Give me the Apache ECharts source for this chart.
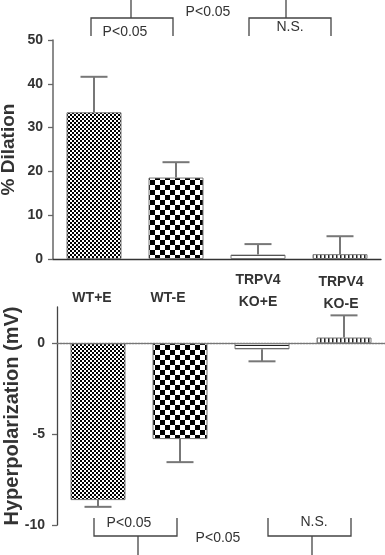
<!DOCTYPE html>
<html><head><meta charset="utf-8">
<script src="https://cdn.jsdelivr.net/npm/echarts@6/dist/echarts.min.js"></script>
<style>html,body{margin:0;padding:0;background:#fff}#c{width:385px;height:555px}</style>
</head><body><div id="c"></div>
<script>
// ---- data ----
const categories = ['WT+E', 'WT-E', 'TRPV4\nKO+E', 'TRPV4\nKO-E'];
const dilationMean = [33.5, 18.6, 1.0, 1.1];
const dilationSEM = [8.1, 3.5, 2.4, 4.1];
const hyperMean = [-8.63, -5.27, -0.33, 0.32];
const hyperSEM = [0.37, 1.27, 0.66, 1.22];
const dilationTicks = [0, 10, 20, 30, 40, 50];
const hyperTicks = [-10, -5, 0];
const statTop = ['P<0.05', 'P<0.05', 'N.S.'];
const statBottom = ['P<0.05', 'P<0.05', 'N.S.'];

// ---- patterns ----
function makePattern(kind) {
  const c = document.createElement('canvas');
  const g = c.getContext('2d');
  if (kind === 'fine' || kind === 'coarse') {
    const s = kind === 'fine' ? 2 : 5;
    c.width = c.height = s * 2;
    g.fillStyle = '#fff'; g.fillRect(0, 0, s * 2, s * 2);
    g.fillStyle = '#000'; g.fillRect(0, 0, s, s); g.fillRect(s, s, s, s);
  } else if (kind === 'hlines') {
    c.width = 4; c.height = 3;
    g.fillStyle = '#fff'; g.fillRect(0, 0, 4, 3);
    g.fillStyle = '#222'; g.fillRect(0, 0, 4, 1);
  } else {
    c.width = 4; c.height = 4;
    g.fillStyle = '#fff'; g.fillRect(0, 0, 4, 4);
    g.fillStyle = '#222'; g.fillRect(0, 0, 1.5, 4);
  }
  return { image: c, repeat: 'repeat' };
}
const patterns = [makePattern('fine'), makePattern('coarse'), makePattern('hlines'), makePattern('vstripes')];

const FONT = '"Liberation Sans", Arial, sans-serif';

function barData(vals) {
  return vals.map((v, i) => ({ value: v, itemStyle: { color: patterns[i] } }));
}
function errData(mean, sem) {
  return mean.map((v, i) => [i, v, v >= 0 ? v + sem[i] : v - sem[i]]);
}
function errRender(params, api) {
  const p0 = api.coord([api.value(0), api.value(1)]);
  const p1 = api.coord([api.value(0), api.value(2)]);
  const half = 13.5;
  const st = { stroke: '#777', lineWidth: 2 };
  return { type: 'group', children: [
    { type: 'line', shape: { x1: p0[0], y1: p0[1], x2: p1[0], y2: p1[1] }, style: st },
    { type: 'line', shape: { x1: p1[0] - half, y1: p1[1], x2: p1[0] + half, y2: p1[1] }, style: st }
  ]};
}

const tickLabelStyle = { fontFamily: FONT, fontWeight: 'bold', fontSize: 14, color: '#333' };
const nameStyleTop = { fontFamily: FONT, fontWeight: 'bold', fontSize: 19, color: '#333' };
const nameStyleBottom = { fontFamily: FONT, fontWeight: 'bold', fontSize: 20, color: '#333' };

// category label layout (annotation positions)
const catLabelPos = [[92, 298], [168, 298], [258, 291], [341, 293]];

const lineSt = { stroke: '#444', lineWidth: 1.3 };
function bracket(x1, x2, yTop, yBar, stemX, stemY) {
  return [
    { type: 'polyline', shape: { points: [[x1, yTop], [x1, yBar], [x2, yBar], [x2, yTop]] }, style: Object.assign({ fill: null }, lineSt) },
    { type: 'line', shape: { x1: stemX, y1: yBar, x2: stemX, y2: stemY }, style: lineSt }
  ];
}
function txt(x, y, s, bold, size) {
  return { type: 'text', x: x, y: y, style: { text: s, fontFamily: FONT, fontSize: size || 14, fontWeight: bold ? 'bold' : 'normal', fill: '#333', align: 'center', verticalAlign: 'middle', lineHeight: 22 } };
}

const graphics = []
  .concat(bracket(91, 173, 36, 18, 131, 0))
  .concat(bracket(249, 331, 36, 18, 286, 0))
  .concat(bracket(94, 177, 518, 536, 138, 555))
  .concat(bracket(268, 351, 518, 536, 312, 555))
  .concat([
    txt(125, 32, statTop[0]), txt(208, 12, statTop[1]), txt(290, 27, statTop[2]),
    txt(129, 523, statBottom[0]), txt(218, 538, statBottom[1]), txt(314, 522, statBottom[2])
  ])
  .concat(categories.map((c, i) => txt(catLabelPos[i][0], catLabelPos[i][1], c, true, 14)));

const chart = echarts.init(document.getElementById('c'), null, { renderer: 'canvas' });
chart.setOption({
  animation: false,
  backgroundColor: '#fff',
  grid: [
    { left: 53, top: 40, width: 328, height: 219, outerBoundsMode: 'none', containLabel: false },
    { left: 57, top: 307, width: 328, height: 218, outerBoundsMode: 'none', containLabel: false }
  ],
  xAxis: [
    { type: 'category', gridIndex: 0, data: categories,
      axisLine: { lineStyle: { color: '#333', width: 1.3 } },
      axisTick: { alignWithLabel: true, length: 5, lineStyle: { color: '#666', width: 1.3 } },
      axisLabel: { show: false } },
    { type: 'category', gridIndex: 1, data: categories,
      axisLine: { onZero: true, lineStyle: { color: '#777', width: 1.3, type: [2, 1] } },
      axisTick: { alignWithLabel: true, length: 5, lineStyle: { color: '#777', width: 1.5 } },
      axisLabel: { show: false } }
  ],
  yAxis: [
    { type: 'value', gridIndex: 0, min: 0, max: 50, interval: 10,
      name: '% Dilation', nameLocation: 'middle', nameGap: 35, nameMoveOverlap: false, nameTextStyle: nameStyleTop,
      axisLine: { show: true, lineStyle: { color: '#666', width: 1.5 } },
      axisTick: { show: true, length: 5, lineStyle: { color: '#666', width: 1.3 }, customValues: dilationTicks },
      axisLabel: Object.assign({ margin: 10, customValues: dilationTicks }, tickLabelStyle),
      splitLine: { show: false } },
    { type: 'value', gridIndex: 1, min: -10, max: 2, interval: 5,
      name: 'Hyperpolarization (mV)', nameLocation: 'middle', nameGap: 35, nameMoveOverlap: false, nameTextStyle: nameStyleBottom,
      axisLine: { show: true, onZero: false, lineStyle: { color: '#444', width: 1.3 } },
      axisTick: { show: true, length: 5, lineStyle: { color: '#666', width: 1.3 }, customValues: hyperTicks },
      axisLabel: Object.assign({ margin: 12, customValues: hyperTicks }, tickLabelStyle),
      splitLine: { show: false } }
  ],
  series: [
    { type: 'bar', xAxisIndex: 0, yAxisIndex: 0, barWidth: 55, data: barData(dilationMean),
      itemStyle: { borderColor: '#777', borderWidth: 1 }, z: 3 },
    { type: 'custom', xAxisIndex: 0, yAxisIndex: 0, renderItem: errRender, data: errData(dilationMean, dilationSEM),
      encode: { x: 0, y: [1, 2] }, z: 4 },
    { type: 'bar', xAxisIndex: 1, yAxisIndex: 1, barWidth: 55, data: barData(hyperMean),
      itemStyle: { borderColor: '#777', borderWidth: 1 }, z: 3 },
    { type: 'custom', xAxisIndex: 1, yAxisIndex: 1, renderItem: errRender, data: errData(hyperMean, hyperSEM),
      encode: { x: 0, y: [1, 2] }, z: 4 }
  ],
  graphic: graphics
});
</script></body></html>
